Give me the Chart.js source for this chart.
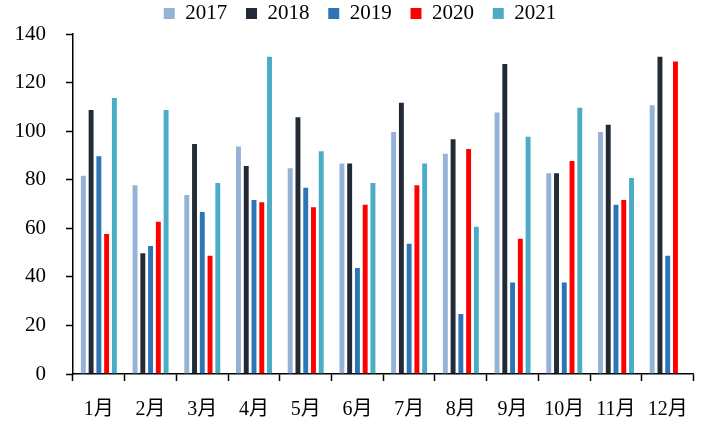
<!DOCTYPE html>
<html>
<head>
<meta charset="utf-8">
<script src="https://cdn.jsdelivr.net/npm/chart.js@4"></script>
<style>
    html, body { margin: 0; padding: 0; background: #fff; }
    canvas { display: block; }
</style>
</head>
<body>
<canvas id="monthly-chart" width="705" height="421"></canvas>
<script>
const months = ['1月', '2月', '3月', '4月', '5月', '6月', '7月', '8月', '9月', '10月', '11月', '12月'];
const years = ['2017', '2018', '2019', '2020', '2021'];
const yTicks = [0, 20, 40, 60, 80, 100, 120, 140];

const values2017 = [82, 78, 74, 94, 85, 87, 100, 91, 108, 83, 100, 111];
const values2018 = [109, 50, 95, 86, 106, 87, 112, 97, 128, 83, 103, 131];
const values2019 = [90, 53, 67, 72, 77, 44, 54, 25, 38, 38, 70, 49];
const values2020 = [58, 63, 49, 71, 69, 70, 78, 93, 56, 88, 72, 129];
const values2021 = [114, 109, 79, 131, 92, 79, 87, 61, 98, 110, 81, null];

const seriesValues = [values2017, values2018, values2019, values2020, values2021];
const colors = ['#95B3D7', '#222A35', '#2E75B6', '#FF0000', '#4BACC6'];

const serif = "'Liberation Serif', 'Noto Sans CJK SC', serif";

// nudge the legend row a little to the right of the canvas centre
const legendShift = {
    id: 'legendShift',
    afterLayout(chart) {
        if (chart.legend) {
            chart.legend.left += 11;
            chart.legend.right += 11;
        }
    }
};

const ctx = document.getElementById('monthly-chart').getContext('2d');

const monthlyChart = new Chart(ctx, {
    type: 'bar',
    data: {
        labels: months,
        datasets: years.map((year, i) => ({
            label: year,
            data: seriesValues[i],
            backgroundColor: colors[i],
            borderColor: 'rgba(255, 255, 255, 0.3)',
            borderWidth: 0.8,
            barPercentage: 0.84,
            categoryPercentage: 0.75
        }))
    },
    options: {
        responsive: false,
        animation: false,
        layout: {
            padding: { left: 0, right: 7, top: 0, bottom: 0 }
        },
        plugins: {
            tooltip: { enabled: false },
            legend: {
                position: 'top',
                labels: {
                    boxWidth: 11,
                    boxHeight: 11,
                    padding: 3,
                    color: '#000',
                    font: { family: serif, size: 21 },
                    // widen the gap between items without pushing the row down
                    generateLabels: chart => {
                        const items = Chart.defaults.plugins.legend.labels.generateLabels(chart);
                        items.forEach((item, i) => {
                            item.lineWidth = 0;
                            if (i < items.length - 1) item.text += '   ';
                        });
                        return items;
                    }
                }
            }
        },
        scales: {
            x: {
                grid: {
                    display: true,
                    drawOnChartArea: false,
                    drawTicks: true,
                    tickLength: 7,
                    tickColor: '#000',
                    tickWidth: 1.5,
                    offset: true
                },
                border: { color: '#000', width: 1.5 },
                ticks: {
                    color: '#000',
                    padding: 17,
                    maxRotation: 0,
                    font: { family: serif, size: 20 }
                },
                afterFit: scale => { scale.height = 47; }
            },
            y: {
                min: 0,
                max: 140,
                afterBuildTicks: scale => {
                    scale.ticks = yTicks.map(v => ({ value: v }));
                },
                grid: {
                    display: true,
                    drawOnChartArea: false,
                    drawTicks: true,
                    tickLength: 7,
                    tickColor: '#000',
                    tickWidth: 1.5
                },
                border: { color: '#000', width: 1.5 },
                ticks: {
                    color: '#000',
                    padding: 20,
                    font: { family: serif, size: 21 }
                },
                afterFit: scale => { scale.width = 73; }
            }
        }
    },
    plugins: [legendShift]
});
</script>
</body>
</html>
